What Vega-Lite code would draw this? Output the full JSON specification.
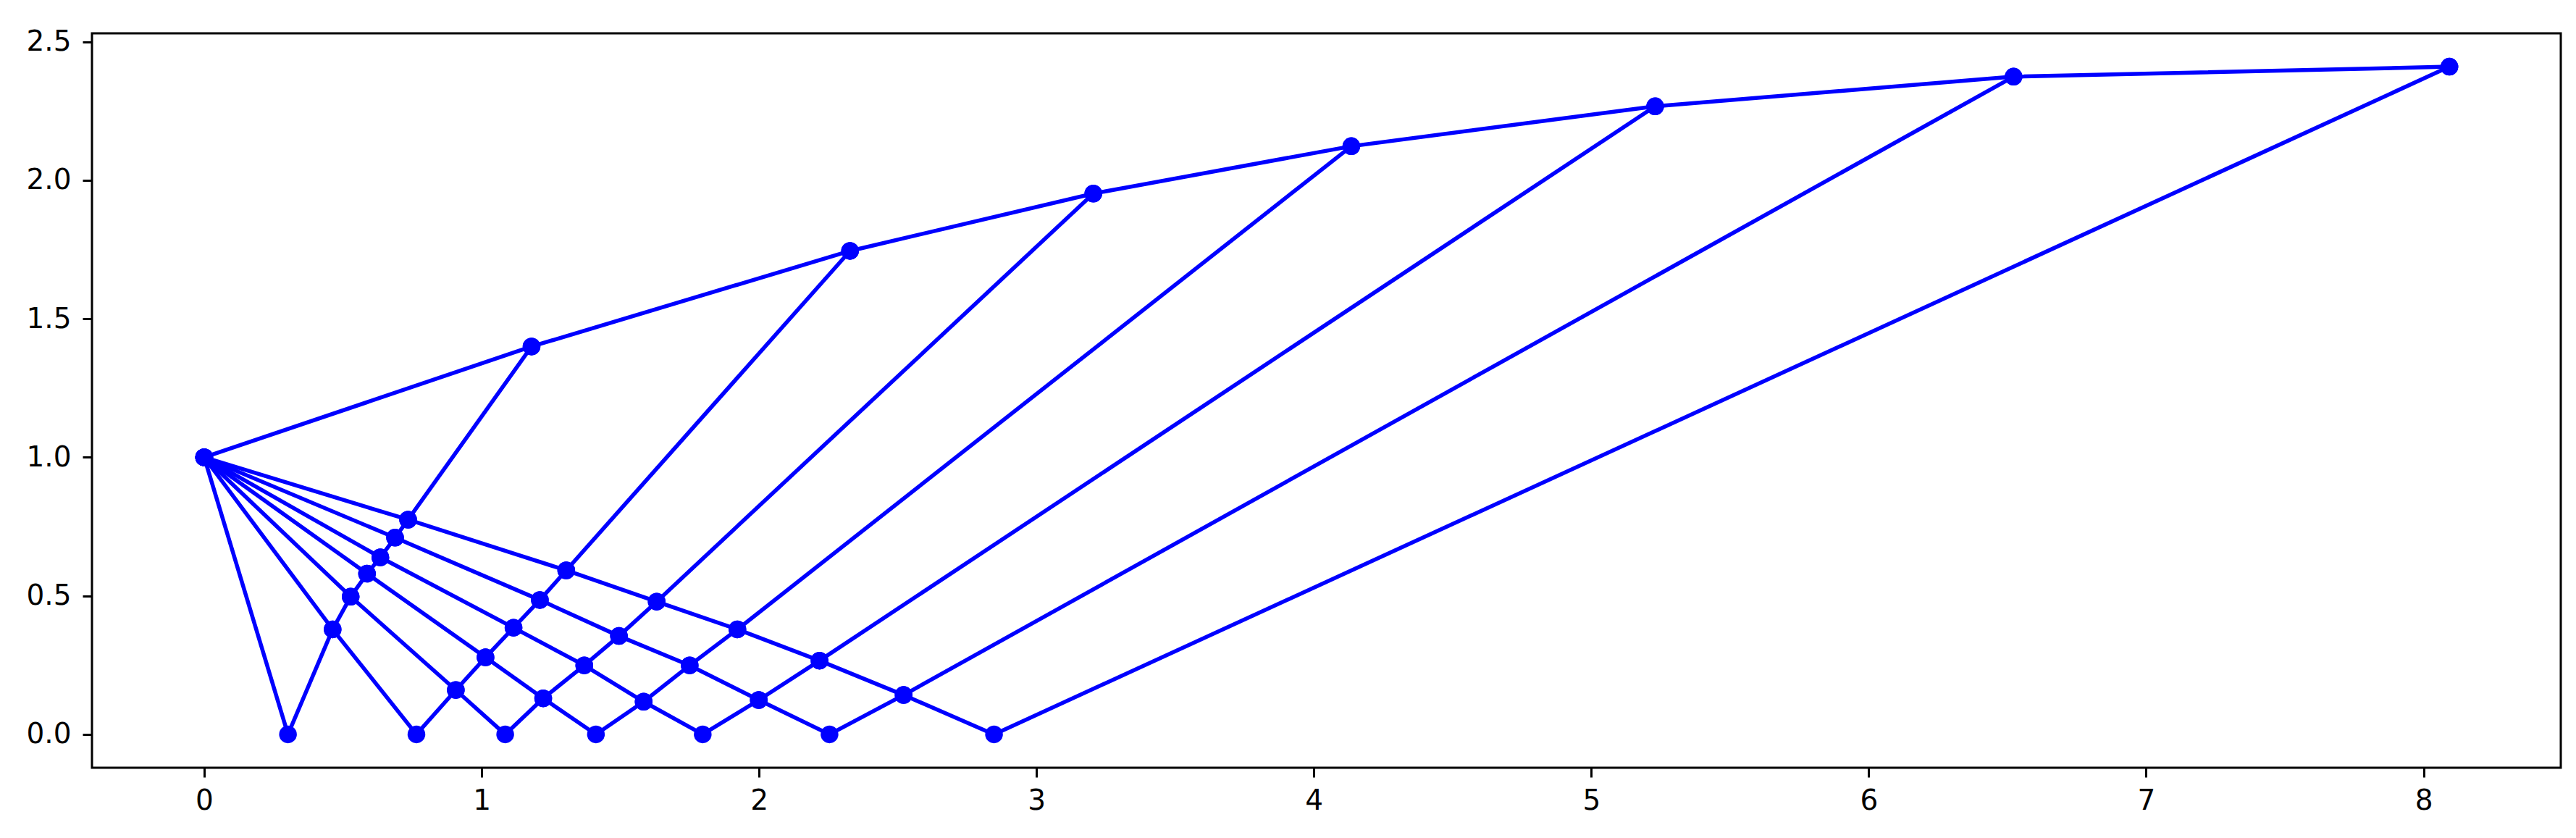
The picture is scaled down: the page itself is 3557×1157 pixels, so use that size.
{
  "$schema": "https://vega.github.io/schema/vega-lite/v6.json",
  "width": 3409,
  "height": 1014,
  "autosize": {"type": "none"},
  "padding": {"left": 127, "top": 46, "right": 21, "bottom": 97},
  "background": "white",
  "config": {
    "view": {"stroke": "black", "strokeWidth": 3},
    "axis": {
      "domain": false,
      "grid": false,
      "ticks": true,
      "tickSize": 13,
      "tickWidth": 3,
      "tickColor": "black",
      "labelFont": "DejaVu Sans",
      "labelFontSize": 39,
      "labelColor": "black",
      "title": null
    }
  },
  "data": {
    "values": [
      {"s": "wall", "o": 0, "x": 0, "y": 1},
      {"s": "wall", "o": 1, "x": 1.180, "y": 1.400},
      {"s": "wall", "o": 2, "x": 2.328, "y": 1.745},
      {"s": "wall", "o": 3, "x": 3.205, "y": 1.952},
      {"s": "wall", "o": 4, "x": 4.135, "y": 2.123},
      {"s": "wall", "o": 5, "x": 5.230, "y": 2.267},
      {"s": "wall", "o": 6, "x": 6.522, "y": 2.374},
      {"s": "wall", "o": 7, "x": 8.093, "y": 2.410},

      {"s": "c1", "o": 0, "x": 0, "y": 1},
      {"s": "c1", "o": 1, "x": 0.302, "y": 0},
      {"s": "c1", "o": 2, "x": 0.463, "y": 0.379},
      {"s": "c1", "o": 3, "x": 0.528, "y": 0.497},
      {"s": "c1", "o": 4, "x": 0.587, "y": 0.580},
      {"s": "c1", "o": 5, "x": 0.635, "y": 0.639},
      {"s": "c1", "o": 6, "x": 0.688, "y": 0.710},
      {"s": "c1", "o": 7, "x": 0.735, "y": 0.775},
      {"s": "c1", "o": 8, "x": 1.180, "y": 1.400},

      {"s": "c2", "o": 0, "x": 0, "y": 1},
      {"s": "c2", "o": 1, "x": 0.463, "y": 0.379},
      {"s": "c2", "o": 2, "x": 0.765, "y": 0},
      {"s": "c2", "o": 3, "x": 0.907, "y": 0.160},
      {"s": "c2", "o": 4, "x": 1.014, "y": 0.278},
      {"s": "c2", "o": 5, "x": 1.115, "y": 0.385},
      {"s": "c2", "o": 6, "x": 1.210, "y": 0.485},
      {"s": "c2", "o": 7, "x": 1.305, "y": 0.592},
      {"s": "c2", "o": 8, "x": 2.328, "y": 1.745},

      {"s": "c3", "o": 0, "x": 0, "y": 1},
      {"s": "c3", "o": 1, "x": 0.528, "y": 0.497},
      {"s": "c3", "o": 2, "x": 0.907, "y": 0.160},
      {"s": "c3", "o": 3, "x": 1.085, "y": 0},
      {"s": "c3", "o": 4, "x": 1.222, "y": 0.130},
      {"s": "c3", "o": 5, "x": 1.370, "y": 0.249},
      {"s": "c3", "o": 6, "x": 1.495, "y": 0.355},
      {"s": "c3", "o": 7, "x": 1.631, "y": 0.479},
      {"s": "c3", "o": 8, "x": 3.205, "y": 1.952},

      {"s": "c4", "o": 0, "x": 0, "y": 1},
      {"s": "c4", "o": 1, "x": 0.587, "y": 0.580},
      {"s": "c4", "o": 2, "x": 1.014, "y": 0.278},
      {"s": "c4", "o": 3, "x": 1.222, "y": 0.130},
      {"s": "c4", "o": 4, "x": 1.412, "y": 0},
      {"s": "c4", "o": 5, "x": 1.584, "y": 0.118},
      {"s": "c4", "o": 6, "x": 1.750, "y": 0.249},
      {"s": "c4", "o": 7, "x": 1.922, "y": 0.379},
      {"s": "c4", "o": 8, "x": 4.135, "y": 2.123},

      {"s": "c5", "o": 0, "x": 0, "y": 1},
      {"s": "c5", "o": 1, "x": 0.635, "y": 0.639},
      {"s": "c5", "o": 2, "x": 1.115, "y": 0.385},
      {"s": "c5", "o": 3, "x": 1.370, "y": 0.249},
      {"s": "c5", "o": 4, "x": 1.584, "y": 0.118},
      {"s": "c5", "o": 5, "x": 1.797, "y": 0},
      {"s": "c5", "o": 6, "x": 1.999, "y": 0.124},
      {"s": "c5", "o": 7, "x": 2.218, "y": 0.266},
      {"s": "c5", "o": 8, "x": 5.230, "y": 2.267},

      {"s": "c6", "o": 0, "x": 0, "y": 1},
      {"s": "c6", "o": 1, "x": 0.688, "y": 0.710},
      {"s": "c6", "o": 2, "x": 1.210, "y": 0.485},
      {"s": "c6", "o": 3, "x": 1.495, "y": 0.355},
      {"s": "c6", "o": 4, "x": 1.750, "y": 0.249},
      {"s": "c6", "o": 5, "x": 1.999, "y": 0.124},
      {"s": "c6", "o": 6, "x": 2.254, "y": 0},
      {"s": "c6", "o": 7, "x": 2.521, "y": 0.142},
      {"s": "c6", "o": 8, "x": 6.522, "y": 2.374},

      {"s": "c7", "o": 0, "x": 0, "y": 1},
      {"s": "c7", "o": 1, "x": 0.735, "y": 0.775},
      {"s": "c7", "o": 2, "x": 1.305, "y": 0.592},
      {"s": "c7", "o": 3, "x": 1.631, "y": 0.479},
      {"s": "c7", "o": 4, "x": 1.922, "y": 0.379},
      {"s": "c7", "o": 5, "x": 2.218, "y": 0.266},
      {"s": "c7", "o": 6, "x": 2.521, "y": 0.142},
      {"s": "c7", "o": 7, "x": 2.847, "y": 0},
      {"s": "c7", "o": 8, "x": 8.093, "y": 2.410}
    ]
  },
  "encoding": {
    "x": {
      "field": "x",
      "type": "quantitative",
      "scale": {"domain": [-0.4045, 8.4945], "nice": false, "zero": false},
      "axis": {"values": [0, 1, 2, 3, 4, 5, 6, 7, 8], "format": "d", "labelPadding": 13}
    },
    "y": {
      "field": "y",
      "type": "quantitative",
      "scale": {"domain": [-0.1205, 2.5305], "nice": false, "zero": false},
      "axis": {"values": [0, 0.5, 1, 1.5, 2, 2.5], "format": ".1f", "labelPadding": 16}
    }
  },
  "layer": [
    {
      "mark": {"type": "line", "color": "#0000ff", "strokeWidth": 5.5},
      "encoding": {
        "detail": {"field": "s", "type": "nominal"},
        "order": {"field": "o", "type": "quantitative"}
      }
    },
    {
      "mark": {"type": "point", "shape": "circle", "filled": true, "color": "#0000ff", "opacity": 1, "size": 600}
    }
  ]
}
